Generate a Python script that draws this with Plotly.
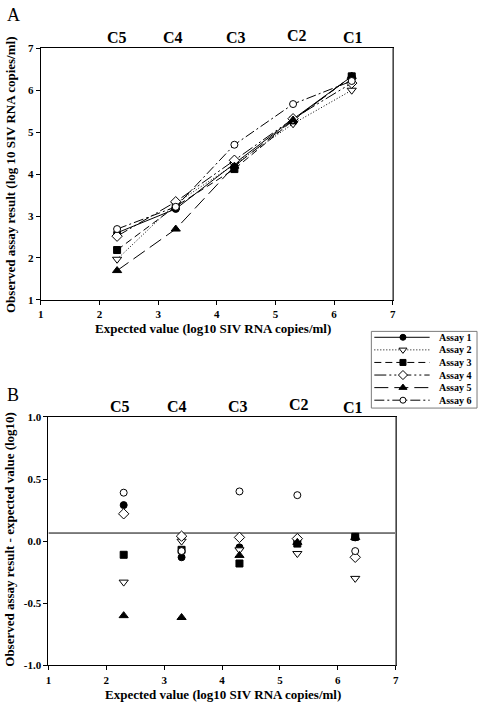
import plotly.graph_objects as go

# ---------------- data ----------------
expected = [2.3, 3.3, 4.3, 5.3, 6.3]
conc_labels = ["C5", "C4", "C3", "C2", "C1"]
assay_names = ["Assay 1", "Assay 2", "Assay 3", "Assay 4", "Assay 5", "Assay 6"]

observed_a1 = [2.60, 3.17, 4.25, 5.31, 6.33]
observed_a2 = [1.97, 3.30, 4.23, 5.20, 6.00]
observed_a3 = [2.19, 3.23, 4.12, 5.28, 6.33]
observed_a4 = [2.52, 3.34, 4.33, 5.32, 6.17]
observed_a5 = [1.70, 2.69, 4.19, 5.29, 6.33]
observed_a6 = [2.69, 3.22, 4.70, 5.67, 6.22]

diff_a1 = [0.29, -0.13, -0.05, 0.01, 0.03]
diff_a2 = [-0.33, 0.00, -0.07, -0.10, -0.30]
diff_a3 = [-0.11, -0.07, -0.18, -0.02, 0.035]
diff_a4 = [0.22, 0.04, 0.03, 0.02, -0.13]
diff_a5 = [-0.60, -0.615, -0.115, -0.01, 0.03]
diff_a6 = [0.39, -0.08, 0.40, 0.37, -0.08]

ref_line_y = 0.065
x_range = [1, 7]

observed = [observed_a1, observed_a2, observed_a3, observed_a4, observed_a5, observed_a6]
diffs = [diff_a1, diff_a2, diff_a3, diff_a4, diff_a5, diff_a6]

# ---------------- styles ----------------
FONT = "Liberation Serif"
dashes = ["solid", "1px,2px", "7px,4px", "12px,3px,2px,3px,2px,3px", "14px,6px", "10px,3px,2px,3px"]
symbols = ["circle", "triangle-down", "square", "diamond", "triangle-up", "circle"]
fills = ["black", "white", "black", "white", "black", "white"]
msizes = [7, 8, 7, 8, 8, 7]

W, H = 482, 708
def px_x(p):
    return p / W
def px_y(p):
    return 1 - p / H

fig = go.Figure()

for i in range(6):
    fig.add_trace(go.Scatter(
        x=expected, y=observed[i], mode="lines+markers", name=assay_names[i],
        line=dict(color="black", width=1, dash=dashes[i]),
        marker=dict(symbol=symbols[i], size=msizes[i], color=fills[i],
                    line=dict(color="black", width=1)),
        xaxis="x", yaxis="y", showlegend=False))

fig.add_trace(go.Scatter(
    x=x_range, y=[ref_line_y, ref_line_y], mode="lines",
    line=dict(color="black", width=1), xaxis="x2", yaxis="y2", showlegend=False))

for i in range(6):
    fig.add_trace(go.Scatter(
        x=expected, y=diffs[i], mode="markers", name=assay_names[i],
        marker=dict(symbol=symbols[i], size=msizes[i], color=fills[i],
                    line=dict(color="black", width=1)),
        xaxis="x2", yaxis="y2", showlegend=False))

# manual legend (key samples on their own small axes, pixel units)
leg_rows = [6 + 12.8 * i for i in range(6)]
for i in range(6):
    fig.add_trace(go.Scatter(
        x=[3, 59], y=[leg_rows[i], leg_rows[i]], mode="lines",
        line=dict(color="black", width=1, dash=dashes[i]),
        xaxis="x3", yaxis="y3", showlegend=False, hoverinfo="skip"))
    fig.add_trace(go.Scatter(
        x=[32], y=[leg_rows[i]], mode="markers",
        marker=dict(symbol=symbols[i], size=msizes[i] - 1, color=fills[i],
                    line=dict(color="black", width=1)),
        xaxis="x3", yaxis="y3", showlegend=False, hoverinfo="skip"))

tickfont = dict(family=FONT, size=11, color="black", weight="bold")
common_x = dict(range=x_range, tickvals=[1, 2, 3, 4, 5, 6, 7],
                ticktext=["%d" % v for v in [1, 2, 3, 4, 5, 6, 7]],
                ticks="outside", ticklen=4,
                tickcolor="black", showline=True, linecolor="black", linewidth=1,
                mirror=True, showgrid=False, zeroline=False, tickfont=tickfont)
common_y = dict(ticks="outside", ticklen=4, tickcolor="black", showline=True,
                linecolor="black", linewidth=1, mirror=True, showgrid=False,
                zeroline=False, tickfont=tickfont)

fig.update_layout(
    width=W, height=H, margin=dict(l=0, r=0, t=0, b=0),
    paper_bgcolor="white", plot_bgcolor="white", showlegend=False,
    xaxis=dict(domain=[px_x(38.3), px_x(394.7)], anchor="y", **common_x),
    yaxis=dict(domain=[px_y(299), px_y(43)], anchor="x", range=[1, 7],
               tickvals=[1, 2, 3, 4, 5, 6, 7],
               ticktext=["%d" % v for v in [1, 2, 3, 4, 5, 6, 7]], **common_y),
    xaxis2=dict(domain=[px_x(46), px_x(397.7)], anchor="y2", **common_x),
    yaxis2=dict(domain=[px_y(670.7), px_y(418)], anchor="x2", range=[-1, 1],
                tickvals=[-1, -0.5, 0, 0.5, 1],
                ticktext=["-1.0", "-0.5", "0.0", "0.5", "1.0"],
                **common_y),
    xaxis3=dict(domain=[px_x(373), px_x(480)], anchor="y3", range=[0, 107],
                visible=False, fixedrange=True),
    yaxis3=dict(domain=[px_y(409), px_y(331)], anchor="x3", range=[78, 0],
                visible=False, fixedrange=True),
)

# right frame edges drawn in gray
for xa, ya in [("x", "y"), ("x2", "y2")]:
    fig.add_shape(type="line", xref=xa + " domain", yref=ya + " domain",
                  x0=1, x1=1, y0=0, y1=1, line=dict(color="#8a8a8a", width=1.5))
# legend box
fig.add_shape(type="rect", xref="x3 domain", yref="y3 domain", x0=0, x1=1, y0=0, y1=1,
              line=dict(color="#7a7a7a", width=1))

ann = []
for i in range(6):
    ann.append(dict(x=px_x(477), y=leg_rows[i], xref="paper", yref="y3", text=assay_names[i],
                    showarrow=False, xanchor="right", yanchor="middle",
                    font=dict(family=FONT, size=10, color="black", weight="bold")))

top_label_y = [0.9548, 0.9548, 0.9548, 0.9576, 0.9548]
top_label_shift = [0, -3, 2, 4, 1]
bot_label_y = [0.4251, 0.4251, 0.4251, 0.428, 0.4237]
bot_label_shift = [-4, -5, -1, 2, -2]
for j, lab in enumerate(conc_labels):
    ann.append(dict(x=expected[j], y=top_label_y[j], xref="x", yref="paper", text=lab,
                    showarrow=False, xanchor="center", yanchor="middle", xshift=top_label_shift[j],
                    font=dict(family=FONT, size=16, color="black", weight="bold")))
    ann.append(dict(x=expected[j], y=bot_label_y[j], xref="x2", yref="paper", text=lab,
                    showarrow=False, xanchor="center", yanchor="middle", xshift=bot_label_shift[j],
                    font=dict(family=FONT, size=16, color="black", weight="bold")))

title_font = dict(family=FONT, size=13, color="black", weight="bold")
ann += [
    dict(x=px_x(212.5), y=px_y(328), xref="paper", yref="paper",
         text="Expected value (log10 SIV RNA copies/ml)", showarrow=False,
         xanchor="center", yanchor="middle", font=title_font),
    dict(x=px_x(222.5), y=px_y(700), xref="paper", yref="paper",
         text="Expected value (log10 SIV RNA copies/ml)", showarrow=False,
         xanchor="center", yanchor="middle", font=title_font),
    dict(x=px_x(7), y=px_y(171), xref="paper", yref="paper", textangle=-90,
         text="Observed assay result (log 10 SIV RNA copies/ml)", showarrow=False,
         xanchor="center", yanchor="middle", font=title_font),
    dict(x=px_x(7), y=px_y(542), xref="paper", yref="paper", textangle=-90,
         text="Observed assay result - expected value (log10)", showarrow=False,
         xanchor="center", yanchor="middle", font=title_font),
    dict(x=px_x(2), y=px_y(9), xref="paper", yref="paper", text="A", showarrow=False,
         xanchor="left", yanchor="middle", font=dict(family=FONT, size=18, color="black")),
    dict(x=px_x(2), y=px_y(396), xref="paper", yref="paper", text="B", showarrow=False,
         xanchor="left", yanchor="middle", font=dict(family=FONT, size=18, color="black")),
]
fig.update_layout(annotations=ann)

fig.write_html("out.html", config={"displayModeBar": False},
               post_script="document.body.style.margin='0';document.body.style.overflow='hidden';")
